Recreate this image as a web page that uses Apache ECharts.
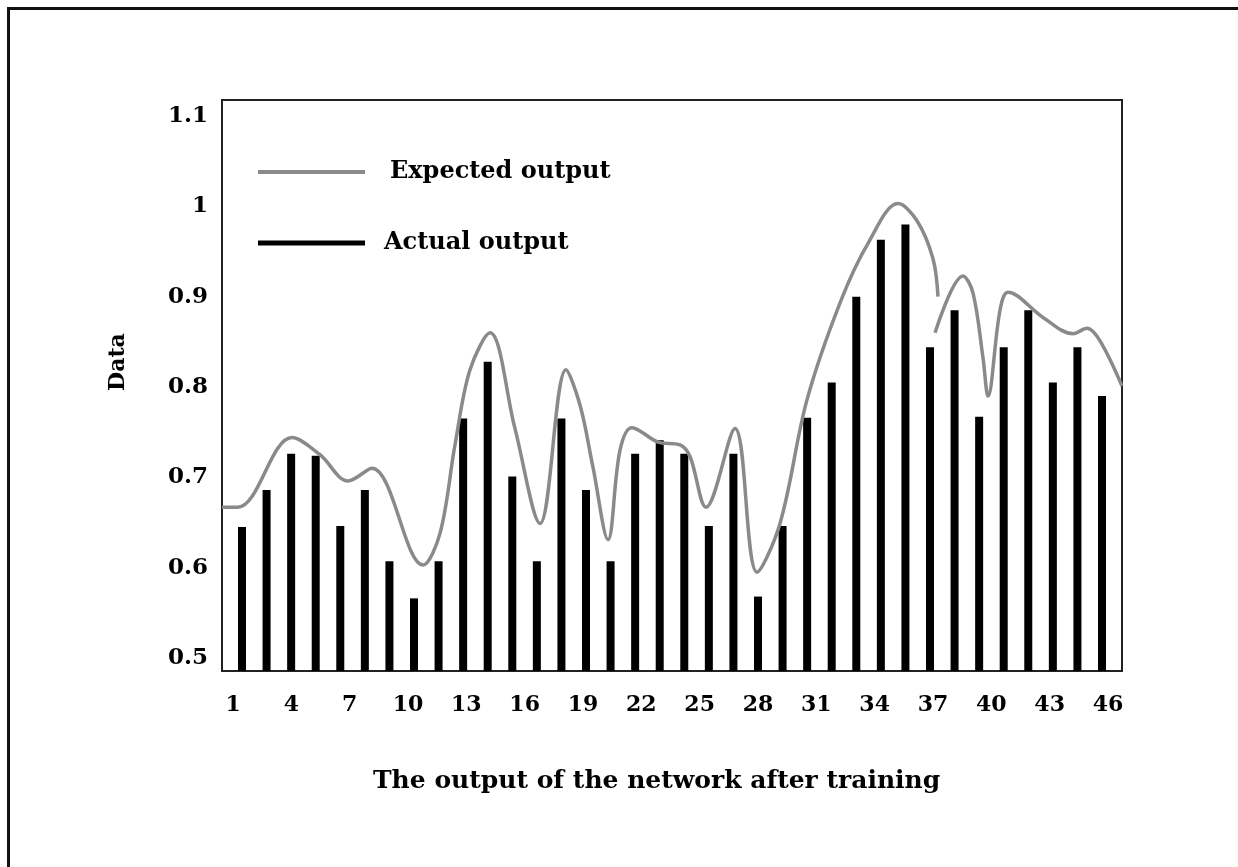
<!DOCTYPE html>
<html>
<head>
<meta charset="utf-8">
<script src="https://cdn.jsdelivr.net/npm/echarts@6/dist/echarts.min.js"></script>
<style>
html,body{margin:0;padding:0;background:#fff;}
#chart{width:1238px;height:867px;}
</style>
</head>
<body>
<div id="chart"></div>
<script>
// ---- data ----
const barIndex = [1,2,3,4,5,6,7,8,9,10,11,12,13,14,15,16,17,18,19,20,21,22,23,24,25,26,27,28,29,30,31,32,33,34,35,36];
const actualOutput = [0.645,0.686,0.726,0.724,0.646,0.686,0.607,0.566,0.607,0.765,0.828,0.701,0.607,0.765,0.686,0.607,0.726,0.741,0.726,0.646,0.726,0.568,0.646,0.766,0.805,0.900,0.963,0.980,0.844,0.885,0.767,0.844,0.885,0.805,0.844,0.790];

// expected output curve, drawn in two pieces (as in the source figure)
const expectedX1 = [0.186,0.837,3.035,4.174,5.314,6.291,8.366,9.058,9.669,10.279,11.093,12.100,13.128,14.186,14.756,15.285,15.896,16.384,16.872,17.930,18.826,19.233,19.884,21.064,21.960,22.896,23.995,25.379,26.518,27.698,28.471,29.122,29.326];
const expectedY1 = [0.667,0.667,0.744,0.725,0.696,0.710,0.603,0.638,0.736,0.819,0.860,0.755,0.649,0.819,0.780,0.711,0.631,0.730,0.755,0.739,0.736,0.723,0.667,0.754,0.595,0.649,0.786,0.896,0.961,1.003,0.984,0.942,0.900];
const expectedX2 = [29.205,30.344,30.751,31.158,31.361,31.849,32.175,33.600,34.820,35.390,35.920,36.814];
const expectedY2 = [0.860,0.923,0.904,0.832,0.790,0.885,0.905,0.877,0.859,0.865,0.851,0.801];

const xTickLabels = ['1','4','7','10','13','16','19','22','25','28','31','34','37','40','43','46'];
const yTickLabels = ['0.5','0.6','0.7','0.8','0.9','1','1.1'];

// ---- build ----
const FONT = 'DejaVu Serif';
const barData = barIndex.map((x, i) => [x, actualOutput[i]]);
const line1 = expectedX1.map((x, i) => [x, expectedY1[i]]);
const line2 = expectedX2.map((x, i) => [x, expectedY2[i]]);
const GRAY = '#8a8a8a';

const chart = echarts.init(document.getElementById('chart'), null, {renderer: 'canvas'});
const option = {
  animation: false,
  backgroundColor: '#fff',
  title: {
    text: 'The output of the network after training',
    left: 368, top: 764,
    textStyle: {fontFamily: FONT, fontWeight: 'bold', fontSize: 25, color: '#000'}
  },
  legend: [
    {
      left: 253, top: 155, orient: 'vertical', selectedMode: false,
      itemWidth: 107, itemHeight: 4,
      data: [{name: 'Expected output', icon: 'rect', itemStyle: {color: GRAY}}],
      textStyle: {fontFamily: FONT, fontWeight: 'bold', fontSize: 24, color: '#000', padding: [2, 0, 0, 20]}
    },
    {
      left: 253, top: 226, orient: 'vertical', selectedMode: false,
      itemWidth: 107, itemHeight: 5,
      data: [{name: 'Actual output', icon: 'rect', itemStyle: {color: '#000'}}],
      textStyle: {fontFamily: FONT, fontWeight: 'bold', fontSize: 24, color: '#000', padding: [0, 0, 0, 14]}
    }
  ],
  graphic: [
    {type: 'polyline', shape: {points: [[8.5, 867], [8.5, 8.5], [1238, 8.5]]},
     style: {stroke: '#111', lineWidth: 3, fill: null}, silent: true},
    {type: 'text', x: 118, y: 362, rotation: Math.PI / 2,
     style: {text: 'Data', font: 'bold 22px "DejaVu Serif"', fill: '#000', align: 'center', verticalAlign: 'middle'}}
  ],
  grid: [
    {left: 222, right: 116, top: 100, bottom: 196, show: true, borderColor: '#222', borderWidth: 2, backgroundColor: 'transparent'},
    {left: 222, right: 116, top: 25.7, bottom: 118.7},
    {left: 174.7, right: 71.7, top: 100, bottom: 196}
  ],
  xAxis: [
    {gridIndex: 0, type: 'value', min: 0.186, max: 36.814, show: false},
    {gridIndex: 1, type: 'value', min: 0, max: 1, show: false},
    {gridIndex: 2, type: 'value', min: -3, max: 48, interval: 3,
     axisLine: {show: false}, axisTick: {show: false}, splitLine: {show: false},
     axisLabel: {
       margin: 23, fontFamily: FONT, fontWeight: 'bold', fontSize: 22, color: '#000',
       showMinLabel: false, showMaxLabel: false,
       formatter: function (v) {
         const k = Math.round(v / 3);
         return (k >= 0 && k < xTickLabels.length && Math.abs(v - k * 3) < 1e-6) ? xTickLabels[k] : '';
       }
     }}
  ],
  yAxis: [
    {gridIndex: 0, type: 'value', min: 0.4856, max: 1.1177, show: false},
    {gridIndex: 1, type: 'value', min: 0.4, max: 1.2, interval: 0.1,
     axisLine: {show: false}, axisTick: {show: false}, splitLine: {show: false},
     axisLabel: {
       margin: 14, fontFamily: FONT, fontWeight: 'bold', fontSize: 23, color: '#000',
       formatter: function (v) {
         const k = Math.round((v - 0.5) * 10);
         return (k >= 0 && k < yTickLabels.length && Math.abs(v - (0.5 + k / 10)) < 1e-6) ? yTickLabels[k] : '';
       }
     }},
    {gridIndex: 2, type: 'value', min: 0, max: 1, show: false}
  ],
  series: [
    {name: 'Actual output', type: 'bar', xAxisIndex: 0, yAxisIndex: 0, data: barData,
     barWidth: 8, itemStyle: {color: '#000'}, z: 2},
    {name: 'Expected output', type: 'line', xAxisIndex: 0, yAxisIndex: 0, data: line1,
     smooth: 0.35, showSymbol: false, symbol: 'none',
     lineStyle: {color: GRAY, width: 3.5}, itemStyle: {color: GRAY}, z: 3},
    {name: 'Expected output', type: 'line', xAxisIndex: 0, yAxisIndex: 0, data: line2,
     smooth: 0.35, showSymbol: false, symbol: 'none',
     lineStyle: {color: GRAY, width: 3.5}, itemStyle: {color: GRAY}, z: 3}
  ]
};
chart.setOption(option);
</script>
</body>
</html>
